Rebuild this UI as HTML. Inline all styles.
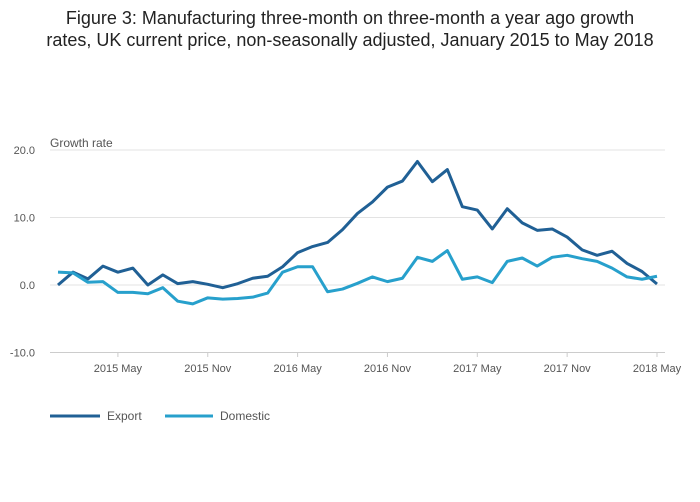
<!DOCTYPE html>
<html><head><meta charset="utf-8"><style>
body{margin:0;background:#fff;font-family:"Liberation Sans",sans-serif;}
</style></head><body>
<svg width="700" height="502" viewBox="0 0 700 502" style="display:block">
<text x="350" y="24" text-anchor="middle" font-size="18" fill="#222">Figure 3: Manufacturing three-month on three-month a year ago growth</text>
<text x="350" y="46" text-anchor="middle" font-size="18" fill="#222">rates, UK current price, non-seasonally adjusted, January 2015 to May 2018</text>
<text x="50" y="147" font-size="12" fill="#555">Growth rate</text>
<g id="grid"></g><g id="xaxis"></g><g id="lines"></g>
<g>
<line x1="50" y1="416" x2="100" y2="416" stroke="#206095" stroke-width="3"/>
<text x="107" y="420" font-size="12" fill="#555">Export</text>
<line x1="165" y1="416" x2="213" y2="416" stroke="#27a0cc" stroke-width="3"/>
<text x="220" y="420" font-size="12" fill="#555">Domestic</text>
</g>
</svg>
<script>
const yTicks=[20,10,0,-10];
const xTickLabels=["2015 May","2015 Nov","2016 May","2016 Nov","2017 May","2017 Nov","2018 May"];
const xTickIdx=[4,10,16,22,28,34,40];
const exportVals=[0,1.9,0.9,2.8,1.9,2.5,0,1.5,0.2,0.5,0.1,-0.4,0.2,1.0,1.3,2.7,4.8,5.7,6.3,8.2,10.6,12.3,14.5,15.4,18.3,15.3,17.1,11.6,11.1,8.3,11.3,9.2,8.1,8.3,7.1,5.2,4.4,5.0,3.2,2.0,0.15];
const domesticVals=[1.9,1.8,0.4,0.5,-1.1,-1.1,-1.3,-0.4,-2.4,-2.8,-1.9,-2.1,-2.0,-1.8,-1.2,1.9,2.7,2.7,-1.0,-0.6,0.25,1.2,0.5,1.0,4.1,3.5,5.1,0.85,1.2,0.35,3.5,4.0,2.8,4.1,4.4,3.9,3.5,2.5,1.2,0.85,1.3];
const NS="http://www.w3.org/2000/svg";
const X=i=>58+i*(599/40), Y=v=>285-v*6.75;
function mk(t,a,p){const e=document.createElementNS(NS,t);for(const k in a)e.setAttribute(k,a[k]);p.appendChild(e);return e;}
const g=document.getElementById('grid');
yTicks.forEach(v=>{
 const l=mk('line',{x1:50,x2:665,y1:Y(v),y2:Y(v),stroke:v===-10?'#ccc':'#e3e3e3','stroke-width':1},g);
 
 
 const t=mk('text',{x:35,y:Y(v)+4,'text-anchor':'end','font-size':11,fill:'#555'},g);
 t.textContent=v.toFixed(1);
 
 
});
const xa=document.getElementById('xaxis');
xTickIdx.forEach((ix,k)=>{
 const l=mk('line',{x1:X(ix),x2:X(ix),y1:352,y2:357,stroke:'#ccc'},xa);
 
 
 const t=mk('text',{x:X(ix),y:372,'text-anchor':'middle','font-size':11,fill:'#555'},xa);
 t.textContent=xTickLabels[k];
 
 
});
const lg=document.getElementById('lines');
[[exportVals,'#206095','export-line'],[domesticVals,'#27a0cc','domestic-line']].forEach(([d,c,n])=>{
 const p=mk('polyline',{points:d.map((v,i)=>X(i)+','+Y(v)).join(' '),fill:'none',stroke:c,'stroke-width':3,'stroke-linejoin':'round'},lg);
 
 
});
</script>
</body></html>
